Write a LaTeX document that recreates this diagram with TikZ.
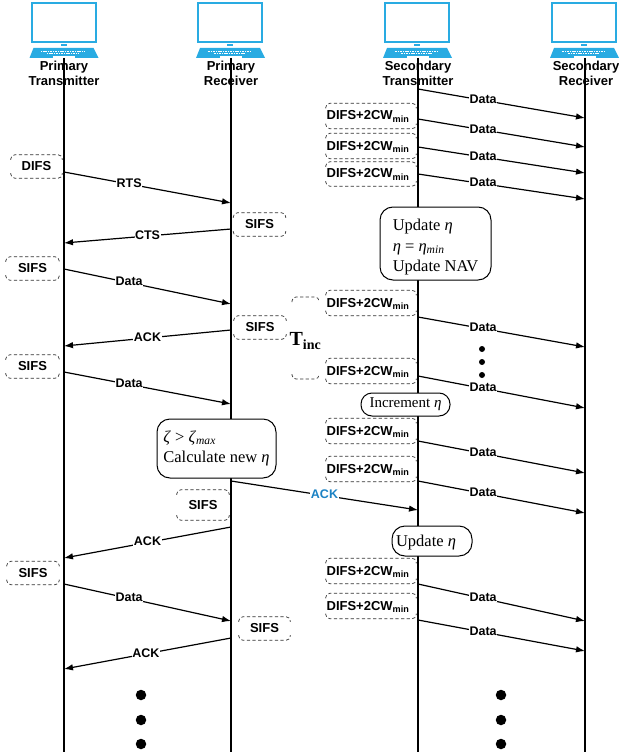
\documentclass[tikz,border=0pt]{standalone}
\usepackage{fontspec}
\usetikzlibrary{arrows.meta}
\setmainfont{Liberation Sans}
\newfontfamily\serifface{Liberation Serif}
\definecolor{laptopblue}{HTML}{29ABE2}
\definecolor{ackblue}{HTML}{1B82C4}
\tikzset{
  msg/.style={line width=1.2pt,-{Latex[length=9pt,width=6.5pt]}},
  lifeline/.style={line width=1.3pt},
  lbl/.style={fill=white,inner sep=0.5pt,yshift=1pt,font=\fontsize{12.5}{14}\selectfont\bfseries},
  who/.style={align=center,inner sep=0pt,font=\fontsize{13}{15.2}\selectfont\bfseries},
  dashes/.style={draw=black!80,line width=0.7pt,dash pattern=on 3.2pt off 2.4pt,rounded corners=4pt},
  timer/.style={inner sep=0pt,font=\fontsize{13}{15}\selectfont\bfseries,
    append after command={\pgfextra{\let\thisbox\tikzlastnode
      \draw[dashes] ([yshift=-5pt]\thisbox.north west) -- (\thisbox.north west) -- (\thisbox.north east) -- ([yshift=-5pt]\thisbox.north east);
      \draw[dashes] ([yshift=5pt]\thisbox.south west) -- (\thisbox.south west) -- (\thisbox.south east) -- ([yshift=5pt]\thisbox.south east);}}},
  cwbox/.style={timer,minimum width=90pt,minimum height=25pt,text height=11pt,text depth=3pt},
  note/.style={draw,fill=white,line width=1pt,inner sep=0pt,align=left,font=\fontsize{16.5}{20.5}\selectfont\serifface},
  bigdot/.style={circle,fill=black,inner sep=0pt,minimum size=10.5pt},
  smalldot/.style={circle,fill=black,inner sep=0pt,minimum size=6pt}
}
\newcommand{\laptop}[2]{%
  \begin{scope}[shift={(#1*\u,#2*\u)}]
    \draw[laptopblue,line width=2pt] (-32.5*\u,1*\u) rectangle (31.5*\u,-38.5*\u);
    \fill[laptopblue] (-3.5*\u,-40*\u) rectangle (2.5*\u,-42.5*\u);
    \fill[laptopblue] (-30.5*\u,-44*\u) -- (29.5*\u,-44*\u) -- (34.5*\u,-54*\u) -- (-34.5*\u,-54*\u) -- cycle;
    \draw[white,line width=0.9pt,dash pattern=on 1.1pt off 0.6pt] (-23*\u,-47*\u) -- (21*\u,-47*\u);
    \draw[white,line width=0.9pt,dash pattern=on 1.1pt off 0.6pt] (-17*\u,-49.5*\u) -- (14*\u,-49.5*\u);
    \fill[white] (-11*\u,-52*\u) rectangle (11*\u,-54*\u);
  \end{scope}}
\newcommand{\cwtext}{DIFS+2CW\textsubscript{min}\hspace*{6pt}}
\begin{document}
\begin{tikzpicture}
\def\u{1pt}
\useasboundingbox (0,0) rectangle (618*\u,-754*\u);

\laptop{64}{-4}
\laptop{230.5}{-4}
\laptop{417.5}{-4}
\laptop{584.5}{-4}

\node[who] (lab1) at (64*\u, -73.5*\u) {Primary\\Transmitter};
\node[who] (lab2) at (231*\u, -73.5*\u) {Primary\\Receiver};
\node[who] (lab3) at (418*\u, -73.5*\u) {Secondary\\Transmitter};
\node[who] (lab4) at (586*\u, -73.5*\u) {Secondary\\Receiver};

% lifelines
\coordinate (top1) at (64*\u, -58*\u);
\coordinate (top2) at (231*\u, -58*\u);
\coordinate (top3) at (418*\u, -58*\u);
\coordinate (top4) at (585*\u, -58*\u);
\coordinate (bot1) at (64*\u, -752*\u);
\coordinate (bot2) at (231*\u, -752*\u);
\coordinate (bot3) at (418*\u, -752*\u);
\coordinate (bot4) at (585*\u, -752*\u);
\draw[lifeline] (top1) -- (bot1);
\draw[lifeline] (top2) -- (bot2);
\draw[lifeline] (top3) -- (bot3);
\draw[lifeline] (top4) -- (bot4);

% primary pair
\coordinate (p01) at (64*\u, -172*\u);
\coordinate (q01) at (231*\u, -203*\u);
\coordinate (q02) at (231*\u, -229*\u);
\coordinate (p02) at (64*\u, -243*\u);
\coordinate (p03) at (64*\u, -269*\u);
\coordinate (q03) at (231*\u, -304*\u);
\coordinate (q04) at (231*\u, -330*\u);
\coordinate (p04) at (64*\u, -346*\u);
\coordinate (p05) at (64*\u, -372*\u);
\coordinate (q05) at (231*\u, -404*\u);
\coordinate (q06) at (231*\u, -527*\u);
\coordinate (p06) at (64*\u, -558*\u);
\coordinate (p07) at (64*\u, -584*\u);
\coordinate (q07) at (231*\u, -621*\u);
\coordinate (q08) at (231*\u, -638*\u);
\coordinate (p08) at (64*\u, -669*\u);
\draw[msg] (p01) -- node[lbl,pos=.39] {RTS} (q01);
\draw[msg] (q02) -- node[lbl,pos=.5] {CTS} (p02);
\draw[msg] (p03) -- node[lbl,pos=.39] {Data} (q03);
\draw[msg] (q04) -- node[lbl,pos=.5] {ACK} (p04);
\draw[msg] (p05) -- node[lbl,pos=.39] {Data} (q05);
\draw[msg] (q06) -- node[lbl,pos=.5] {ACK} (p06);
\draw[msg] (p07) -- node[lbl,pos=.39] {Data} (q07);
\draw[msg] (q08) -- node[lbl,pos=.51] {ACK} (p08);

% secondary pair
\coordinate (s01) at (418*\u, -89*\u);
\coordinate (t01) at (585*\u, -118*\u);
\coordinate (s02) at (418*\u, -119*\u);
\coordinate (t02) at (585*\u, -147*\u);
\coordinate (s03) at (418*\u, -147*\u);
\coordinate (t03) at (585*\u, -173*\u);
\coordinate (s04) at (418*\u, -174*\u);
\coordinate (t04) at (585*\u, -199*\u);
\coordinate (s05) at (418*\u, -317*\u);
\coordinate (t05) at (585*\u, -347*\u);
\coordinate (s06) at (418*\u, -376*\u);
\coordinate (t06) at (585*\u, -408*\u);
\coordinate (s07) at (418*\u, -441*\u);
\coordinate (t07) at (585*\u, -473*\u);
\coordinate (s08) at (418*\u, -481*\u);
\coordinate (t08) at (585*\u, -513*\u);
\coordinate (s09) at (418*\u, -584*\u);
\coordinate (t09) at (585*\u, -621*\u);
\coordinate (s10) at (418*\u, -620*\u);
\coordinate (t10) at (585*\u, -651*\u);
\draw[msg] (s01) -- node[lbl,pos=.39] {Data} (t01);
\draw[msg] (s02) -- node[lbl,pos=.39] {Data} (t02);
\draw[msg] (s03) -- node[lbl,pos=.39] {Data} (t03);
\draw[msg] (s04) -- node[lbl,pos=.39] {Data} (t04);
\draw[msg] (s05) -- node[lbl,pos=.39] {Data} (t05);
\draw[msg] (s06) -- node[lbl,pos=.39] {Data} (t06);
\draw[msg] (s07) -- node[lbl,pos=.39] {Data} (t07);
\draw[msg] (s08) -- node[lbl,pos=.39] {Data} (t08);
\draw[msg] (s09) -- node[lbl,pos=.39] {Data} (t09);
\draw[msg] (s10) -- node[lbl,pos=.39] {Data} (t10);

% ack across
\coordinate (q09) at (231*\u, -481*\u);
\coordinate (s11) at (418*\u, -510*\u);
\draw[msg] (q09) -- node[lbl,pos=.5,text=ackblue] {ACK} (s11);

% timers
\node[timer,minimum width=51pt,minimum height=23pt] (d1) at (36.5*\u, -166.5*\u) {DIFS};
\node[timer,minimum width=52pt,minimum height=23pt] (f1) at (259.5*\u, -224.5*\u) {SIFS};
\node[timer,minimum width=53pt,minimum height=23pt] (f2) at (32.5*\u, -268.5*\u) {SIFS};
\node[timer,minimum width=52pt,minimum height=23pt] (f3) at (260*\u, -327.5*\u) {SIFS};
\node[timer,minimum width=53pt,minimum height=23pt] (f4) at (32.5*\u, -366.5*\u) {SIFS};
\node[timer,minimum width=52pt,minimum height=30pt] (f5) at (203*\u, -505*\u) {SIFS};
\node[timer,minimum width=52pt,minimum height=23pt] (f6) at (33*\u, -573*\u) {SIFS};
\node[timer,minimum width=51pt,minimum height=23pt] (f7) at (264.5*\u, -628.5*\u) {SIFS};

\node[cwbox] (c1) at (371*\u, -116*\u) {\cwtext};
\node[cwbox] (c2) at (371*\u, -146*\u) {\cwtext};
\node[cwbox,minimum height=24pt] (c3) at (371*\u, -174*\u) {\cwtext};
\node[cwbox] (c4) at (371*\u, -303*\u) {\cwtext};
\node[cwbox] (c5) at (371*\u, -371*\u) {\cwtext};
\node[cwbox] (c6) at (371*\u, -431*\u) {\cwtext};
\node[cwbox] (c7) at (371*\u, -469*\u) {\cwtext};
\node[cwbox] (c8) at (371*\u, -571*\u) {\cwtext};
\node[cwbox] (c9) at (371*\u, -606*\u) {\cwtext};

% T_inc bracket
\draw[dashes] (292*\u, -302*\u) -- (292*\u, -297*\u) -- (319*\u, -297*\u) -- (319*\u, -302*\u);
\draw[dashes] (292*\u, -374*\u) -- (292*\u, -379*\u) -- (319*\u, -379*\u) -- (319*\u, -374*\u);
\node[inner sep=0pt,font=\fontsize{20}{24}\selectfont\serifface\bfseries] (tinc) at (305.5*\u, -341*\u) {T\textsubscript{inc}};

% state boxes
\node[note,rounded corners=13pt,minimum width=111pt,minimum height=73pt] (n1) at (435.5*\u, -243.5*\u) {\rule{0pt}{19pt}Update \textit{η}\\\textit{η} = \textit{η}\textsubscript{\textit{min}}\\Update NAV};
\node[note,rounded corners=11pt,minimum width=89pt,minimum height=23pt,font=\fontsize{15}{18}\selectfont\serifface] (n2) at (405.5*\u, -404.5*\u) {Increment \textit{η}};
\node[note,rounded corners=13pt,minimum width=119pt,minimum height=59pt] (n3) at (216.5*\u, -448.5*\u) {\textit{ζ} > \textit{ζ}\textsubscript{\textit{max}}\\Calculate new \textit{η}};
\node[note,rounded corners=13pt,minimum width=80pt,minimum height=30pt] (n4) at (432*\u, -541*\u) {\rule{0pt}{15pt}Update \textit{η}\hspace*{12pt}};

% dots
\node[smalldot] (e1) at (482*\u, -349*\u) {};
\node[smalldot] (e2) at (482*\u, -362*\u) {};
\node[smalldot] (e3) at (482*\u, -375*\u) {};
\node[bigdot] (g1) at (141*\u, -695*\u) {};
\node[bigdot] (g2) at (141*\u, -720*\u) {};
\node[bigdot] (g3) at (141*\u, -744*\u) {};
\node[bigdot] (h1) at (501*\u, -695*\u) {};
\node[bigdot] (h2) at (501*\u, -720*\u) {};
\node[bigdot] (h3) at (501*\u, -744*\u) {};
\end{tikzpicture}
\end{document}
